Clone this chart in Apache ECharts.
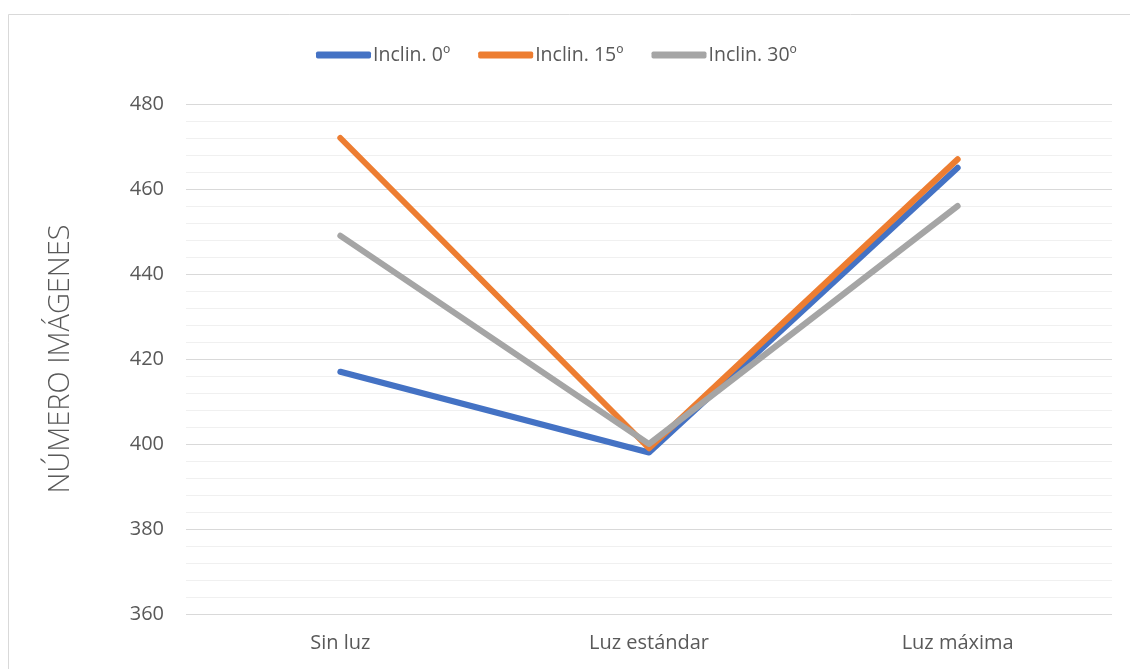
<!DOCTYPE html>
<html>
<head>
<meta charset="utf-8">
<script src="https://cdn.jsdelivr.net/npm/echarts@6/dist/echarts.min.js"></script>
<style>
  html, body { margin: 0; padding: 0; background: #fff; }
  #chart { width: 1130px; height: 669px; }
</style>
</head>
<body>
<div id="chart"></div>
<script>
// Lighting conditions on the x axis
const categories = ['Sin luz', 'Luz estándar', 'Luz máxima'];

// Image counts per tilt angle
const inclin0 = [417, 398, 465];
const inclin15 = [472, 399, 467];
const inclin30 = [449, 400, 456];

const seriesNames = ['Inclin. 0º', 'Inclin. 15º', 'Inclin. 30º'];
const seriesColors = ['#4472C4', '#ED7D31', '#A5A5A5'];

const yMin = 360, yMax = 480, yStep = 20;
const FONT = '"Open Sans", "Liberation Sans", sans-serif';

const chart = echarts.init(document.getElementById('chart'), null, { renderer: 'canvas' });

function makeSeries(name, data, color) {
  return {
    name: name,
    type: 'line',
    data: data,
    showSymbol: false,
    symbol: 'none',
    color: color,
    lineStyle: { width: 6, color: color, cap: 'round', join: 'round' },
    emphasis: { disabled: true },
    animation: false
  };
}

chart.setOption({
  animation: false,
  backgroundColor: '#fff',
  graphic: [{
    type: 'rect',
    shape: { x: 8.5, y: 14.5, width: 1140, height: 700 },
    style: { fill: 'none', stroke: '#d9d9d9', lineWidth: 1 },
    silent: true
  }],
  legend: {
    top: 40,
    left: 311,
    itemWidth: 55,
    itemHeight: 7,
    itemGap: 28,
    icon: 'roundRect',
    textStyle: { fontFamily: FONT, fontSize: 19.5, color: '#595959', padding: [0, 0, 0, -3] },
    data: seriesNames
  },
  grid: { left: 186, right: 18, top: 104, bottom: 55, containLabel: false },
  xAxis: {
    type: 'category',
    data: categories,
    boundaryGap: true,
    axisLine: { show: false },
    axisTick: { show: false },
    axisLabel: { fontFamily: FONT, fontSize: 20, color: '#595959', margin: 19 }
  },
  yAxis: {
    type: 'value',
    min: yMin,
    max: yMax,
    interval: yStep,
    name: 'NÚMERO IMÁGENES',
    nameLocation: 'middle',
    nameGap: 111,
    nameRotate: 90,
    nameTextStyle: { fontFamily: FONT, fontSize: 29, color: '#595959', fontWeight: 300 },
    axisLine: { show: false },
    axisTick: { show: false },
    axisLabel: { fontFamily: FONT, fontSize: 20, color: '#595959', margin: 22 },
    splitLine: { show: true, lineStyle: { color: '#d9d9d9', width: 1 } },
    minorTick: { show: false, splitNumber: 5 },
    minorSplitLine: { show: true, lineStyle: { color: '#f0f0f0', width: 1 } }
  },
  series: [
    makeSeries(seriesNames[0], inclin0, seriesColors[0]),
    makeSeries(seriesNames[1], inclin15, seriesColors[1]),
    makeSeries(seriesNames[2], inclin30, seriesColors[2])
  ]
});
</script>
</body>
</html>
